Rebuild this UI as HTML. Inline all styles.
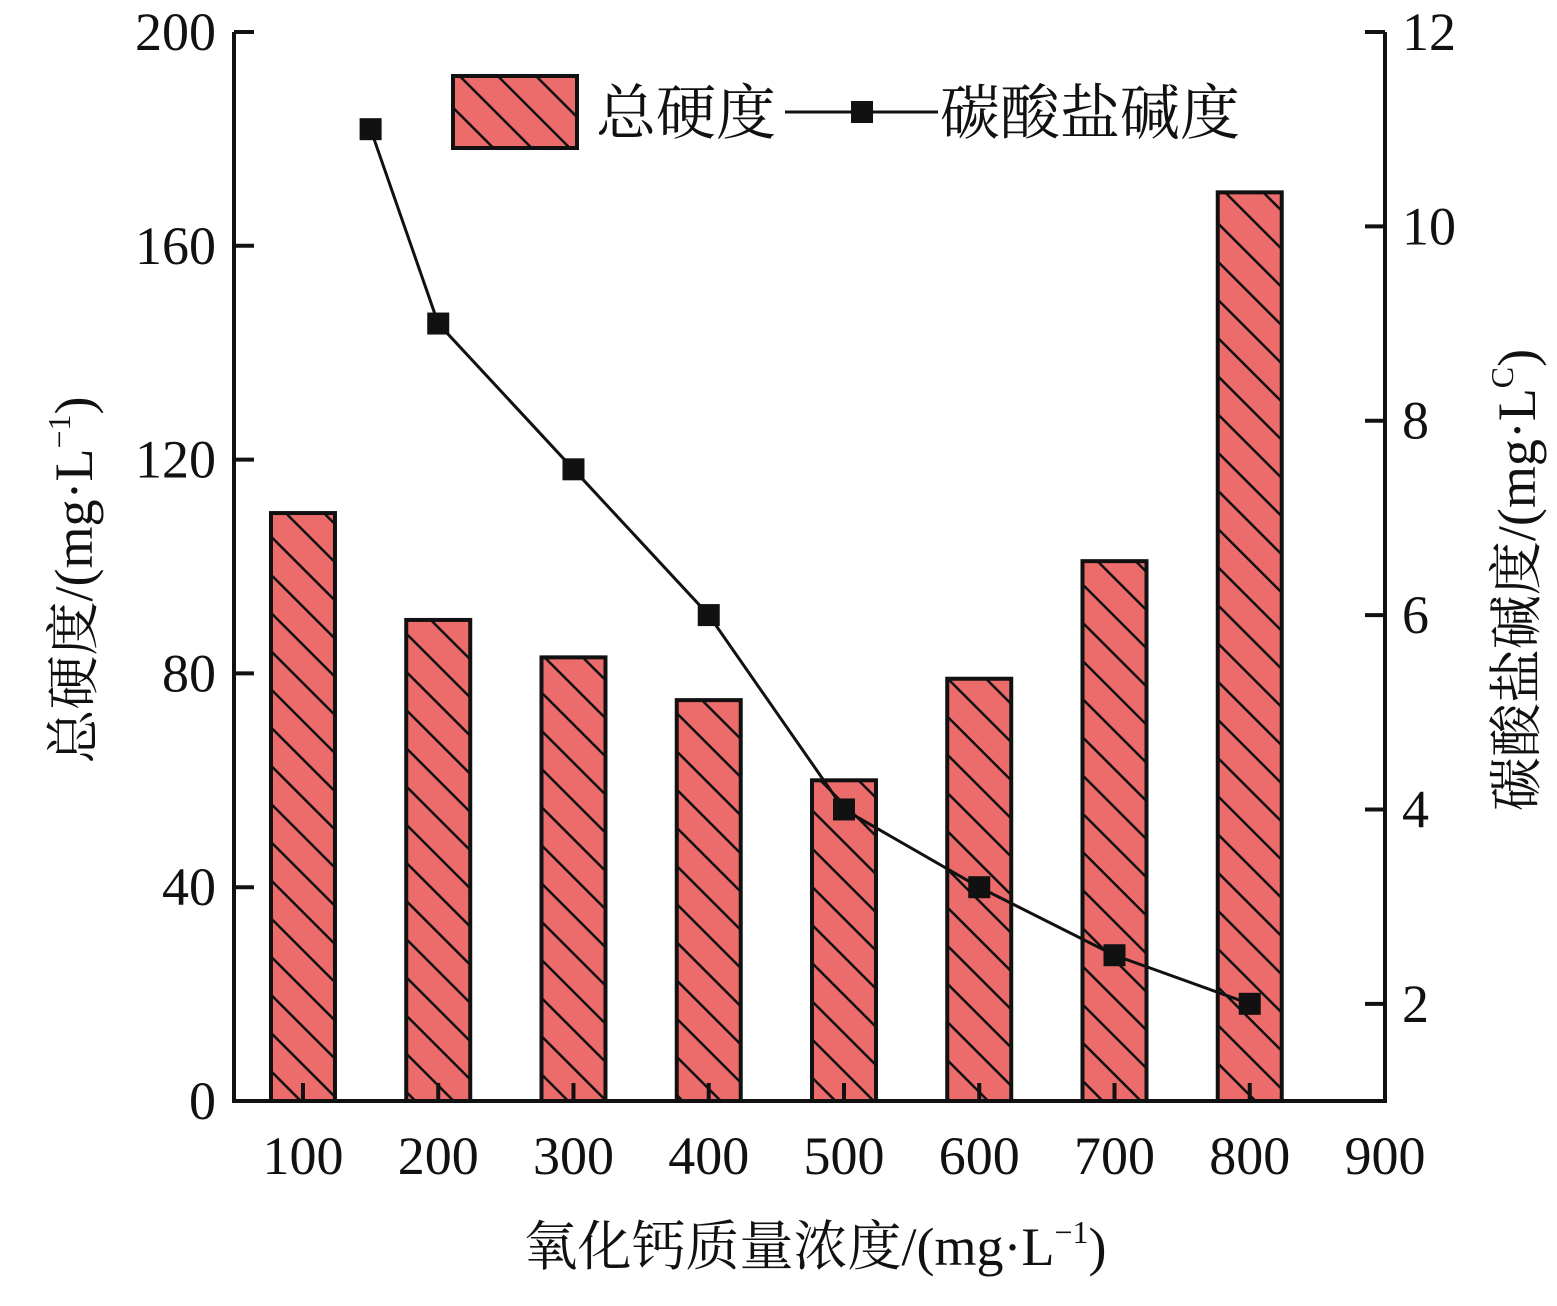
<!DOCTYPE html>
<html><head><meta charset="utf-8"><style>
body{margin:0;background:#fff}
svg text{font-family:"Liberation Serif","Noto Serif CJK SC",serif;fill:#111}
</style></head><body>
<svg width="1557" height="1301" viewBox="0 0 1557 1301">
<defs>
<pattern id="hatch" patternUnits="userSpaceOnUse" width="27" height="27" patternTransform="rotate(-45)">
<rect width="27" height="27" fill="#ec6b6b"/>
<line x1="0" y1="0" x2="0" y2="27" stroke="#111" stroke-width="5"/>
</pattern>
</defs>
<g id="bars"></g>
<g id="line"></g>
<g id="axes"></g>
<g>
<rect x="453" y="76" width="124" height="72" fill="url(#hatch)" stroke="#111" stroke-width="4"/>
<text x="596" y="134" font-size="60">总硬度</text>
<line x1="785" y1="112" x2="938" y2="112" stroke="#111" stroke-width="3"/>
<rect x="851" y="101" width="22" height="22" fill="#111"/>
<text x="940" y="134" font-size="60">碳酸盐碱度</text>
</g>
<text x="815" y="1265" font-size="54" text-anchor="middle">氧化钙质量浓度/(mg·L<tspan font-size="32" dy="-22">−1</tspan><tspan dy="22">)</tspan></text>
<text transform="translate(92,580) rotate(-90)" font-size="54" text-anchor="middle">总硬度/(mg·L<tspan font-size="32" dy="-22">−1</tspan><tspan dy="22">)</tspan></text>
<text transform="translate(1535,580) rotate(-90)" font-size="54" text-anchor="middle">碳酸盐碱度/(mg·L<tspan font-size="32" dy="-22">C</tspan><tspan dy="22">)</tspan></text>
</svg>
<script>
const categories=[100,200,300,400,500,600,700,800];
const hardness=[110,90,83,75,60,79,101,170];
const lineX=[150,200,300,400,500,600,700,800];
const alkalinity=[11,9,7.5,6,4,3.2,2.5,2];
const xTicks=[100,200,300,400,500,600,700,800,900];
const yLeftTicks=[0,40,80,120,160,200];
const yRightTicks=[2,4,6,8,10,12];
const NS="http://www.w3.org/2000/svg";
const L=234,R=1385,T=32,B=1101;
const sx=v=>L+(v-49)/(900-49)*(R-L);
const syL=v=>B-v/200*(B-T);
const syR=v=>B-(v-1)/11*(B-T);
function mk(tag,attrs,parent){const e=document.createElementNS(NS,tag);for(const k in attrs)e.setAttribute(k,attrs[k]);parent.appendChild(e);return e;}
const bars=document.getElementById('bars'),line=document.getElementById('line'),axes=document.getElementById('axes');
categories.forEach((c,i)=>{
 const x=sx(c),y=syL(hardness[i]);
 const r=mk('rect',{x:x-32,y:y,width:64,height:B-y,fill:'url(#hatch)',stroke:'#111','stroke-width':4},bars);
 
 
});
const pts=lineX.map((v,i)=>sx(v)+','+syR(alkalinity[i])).join(' ');
const pl=mk('polyline',{points:pts,fill:'none',stroke:'#111','stroke-width':3},line);


lineX.forEach((v,i)=>{
 const m=mk('rect',{x:sx(v)-11,y:syR(alkalinity[i])-11,width:22,height:22,fill:'#111'},line);
 
 
});
const frame=mk('path',{d:`M${L},${T} V${B} H${R} V${T}`,fill:'none',stroke:'#111','stroke-width':4},axes);


xTicks.forEach(t=>{
 const x=sx(t);
 mk('line',{x1:x,y1:B,x2:x,y2:B-18,stroke:'#111','stroke-width':4},axes);
 const tx=mk('text',{x:x,y:1174,'font-size':54,'text-anchor':'middle'},axes);
 tx.textContent=t;
 
 
});
yLeftTicks.forEach(t=>{
 const y=syL(t);
 mk('line',{x1:L,y1:y,x2:L+20,y2:y,stroke:'#111','stroke-width':4},axes);
 const tx=mk('text',{x:216,y:y+18,'font-size':54,'text-anchor':'end'},axes);
 tx.textContent=t;
 
 
});
yRightTicks.forEach(t=>{
 const y=syR(t);
 mk('line',{x1:R,y1:y,x2:R-20,y2:y,stroke:'#111','stroke-width':4},axes);
 const tx=mk('text',{x:1402,y:y+18,'font-size':54,'text-anchor':'start'},axes);
 tx.textContent=t;
 
 
});
</script>
</body></html>
